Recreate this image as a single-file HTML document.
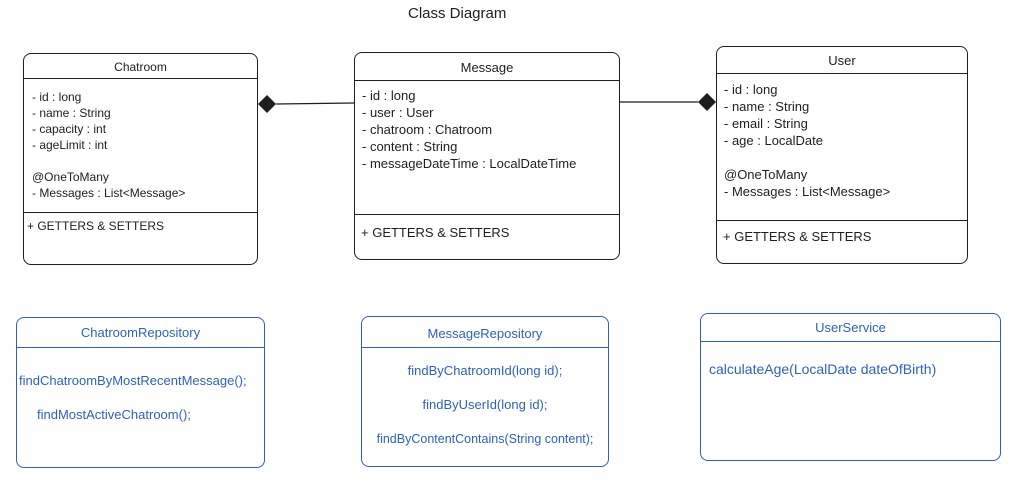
<!DOCTYPE html>
<html><head><meta charset="utf-8"><style>
body{margin:0;width:1022px;height:490px;background:#fff;position:relative;font-family:"Liberation Sans",sans-serif;color:#1e1e1e;overflow:hidden}
.b{position:absolute;border:1.3px solid #1e1e1e;border-radius:8px;box-sizing:border-box}
.blue{border-color:#2f5fbf;color:#2f5fbf}
.h{position:absolute;left:0;right:0;border-top:1.3px solid currentColor}
.t{position:absolute;font-size:12px;white-space:nowrap;line-height:16px}
.c{position:absolute;left:0;right:0;text-align:center;font-size:12px;line-height:16px;white-space:nowrap}
</style></head><body>
<div class="t" style="left:408px;top:6px;font-size:15px">Class Diagram</div>

<div class="b" style="left:23px;top:53px;width:235px;height:212px">
<div class="c" style="top:5px">Chatroom</div>
<div class="h" style="top:24px"></div>
<div class="t" style="left:8px;top:35px">- id : long<br>- name : String<br>- capacity : int<br>- ageLimit : int<br><br>@OneToMany<br>- Messages : List&lt;Message&gt;</div>
<div class="h" style="top:158px"></div>
<div class="t" style="left:3px;top:164px">+ GETTERS &amp; SETTERS</div>
</div>

<div class="b" style="left:354px;top:52px;width:266px;height:208px">
<div class="c" style="top:7px;font-size:13px">Message</div>
<div class="h" style="top:27px"></div>
<div class="t" style="left:7px;top:34px;line-height:17px;font-size:13px">- id : long<br>- user : User<br>- chatroom : Chatroom<br>- content : String<br>- messageDateTime : LocalDateTime</div>
<div class="h" style="top:161px"></div>
<div class="t" style="left:6px;top:172px;font-size:13px">+ GETTERS &amp; SETTERS</div>
</div>

<div class="b" style="left:716px;top:46px;width:252px;height:218px">
<div class="c" style="top:6px;font-size:13px">User</div>
<div class="h" style="top:26px"></div>
<div class="t" style="left:7px;top:34px;line-height:17px;font-size:13px">- id : long<br>- name : String<br>- email : String<br>- age : LocalDate<br><br>@OneToMany<br>- Messages : List&lt;Message&gt;</div>
<div class="h" style="top:173px"></div>
<div class="t" style="left:6px;top:182px;font-size:13px">+ GETTERS &amp; SETTERS</div>
</div>

<svg style="position:absolute;left:0;top:0" width="1022" height="490">
<line x1="276" y1="104" x2="354" y2="103" stroke="#1e1e1e" stroke-width="1.3"/>
<polygon points="258,104 267,95 276,104 267,113" fill="#1e1e1e"/>
<line x1="620" y1="102" x2="698" y2="102" stroke="#1e1e1e" stroke-width="1.3"/>
<polygon points="698,102 707,93 716,102 707,111" fill="#1e1e1e"/>
</svg>

<div class="b blue" style="left:16px;top:317px;width:249px;height:151px">
<div class="c" style="top:7px;font-size:13px">ChatroomRepository</div>
<div class="h" style="top:29px"></div>
<div class="t" style="left:2px;top:55px;font-size:13px">findChatroomByMostRecentMessage();</div>
<div class="t" style="left:20px;top:89px;font-size:13px">findMostActiveChatroom();</div>
</div>

<div class="b blue" style="left:361px;top:316px;width:248px;height:151px">
<div class="c" style="top:9px;font-size:13px">MessageRepository</div>
<div class="h" style="top:30px"></div>
<div class="c" style="top:46px;font-size:13px">findByChatroomId(long id);</div>
<div class="c" style="top:80px;font-size:13px">findByUserId(long id);</div>
<div class="c" style="top:114px;font-size:12.5px">findByContentContains(String content);</div>
</div>

<div class="b blue" style="left:700px;top:313px;width:301px;height:148px">
<div class="c" style="top:6px;font-size:13px">UserService</div>
<div class="h" style="top:27px"></div>
<div class="t" style="left:8px;top:47px;font-size:14px">calculateAge(LocalDate dateOfBirth)</div>
</div>
</body></html>
